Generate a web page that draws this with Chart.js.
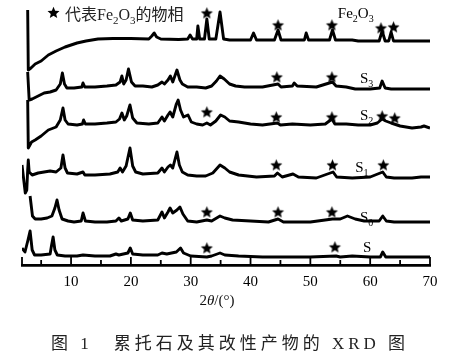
<!DOCTYPE html>
<html>
<head>
<meta charset="utf-8">
<script src="https://cdn.jsdelivr.net/npm/chart.js@4.4.1/dist/chart.umd.min.js"></script>
<style>
  html, body { margin: 0; padding: 0; background: #fff; }
  #wrap { width: 454px; height: 359px; position: relative; }
</style>
</head>
<body>
<div id="wrap"><canvas id="xrd"></canvas></div>
<script>
// Muestras (de arriba hacia abajo)
const muestras = ['Fe2O3', 'S3', 'S2', 'S1', 'S0', 'S'];
// Desplazamiento vertical de cada curva (u.a.)
const desplazamientos = [194, 165, 117, 72, 43, 8];

// [2θ, intensidad]
const fe2o3 = [[2.75,61],[2.85,1],[3.3,3],[4,7],[5,10],[6.2,16],[7.5,20],[9,24],[11,28],[12.5,30],[14.5,32],[17,32.5],[20,32.5],[23,32],[23.5,35],[23.9,38],[24.3,34],[25,32],[28,31.5],[29.5,32],[29.9,36],[30.3,32],[31,32],[31.2,45],[31.5,32],[32.3,32],[32.7,52],[33.1,32],[34.2,32],[34.9,59],[35.5,32],[36.5,31],[38,31],[40,31],[40.5,38],[41,31],[44,31],[44.6,41],[45.1,31],[47,31],[49,31],[49.3,38],[49.7,31],[53.2,31],[53.7,41],[54.2,31],[57,31],[58,30],[61.5,30],[62,40],[62.5,30],[63.1,30],[63.5,39],[63.9,30],[66,30],[70,30]];
const s3 = [[2.75,28],[3,0],[3.5,1],[4.5,4],[5.5,7],[6.5,8],[7.5,10],[8.2,16],[8.55,27],[8.9,16],[9.3,12],[10.5,12],[11.8,13],[12,17],[12.3,13],[14,13],[16,14],[17.5,15],[18.2,18],[18.5,24],[18.8,16],[19.2,20],[19.6,31],[20.1,18],[20.7,14],[22,14],[23.5,13],[24.5,15],[25.2,18],[25.6,16],[26.2,20],[26.6,24],[27,18],[27.7,30],[28.2,20],[28.6,16],[29.5,13],[31,13],[32.5,12],[33.5,14],[34.3,19],[34.9,24],[35.6,21],[36.5,16],[37.5,14],[39,13],[42,13],[44.6,16],[45.1,13],[47,14],[47.3,17],[47.8,14],[51,13],[53.7,18],[54.3,14],[56,13],[57.5,11],[60,11],[61.6,12],[62,19],[62.5,12],[63.5,11],[66,11],[70,11]];
const s2 = [[2.75,48],[2.85,0],[3.4,6],[4,8],[5,12],[6.2,18],[7.5,21],[8.2,28],[8.65,40],[9,28],[9.5,24],[11,23],[11.9,24],[12.1,28],[12.4,24],[14,24],[16,25],[17.5,26],[18.1,29],[18.5,35],[18.9,28],[19.3,32],[19.85,43],[20.3,30],[21,25],[23,24],[24.5,25],[25.2,31],[25.6,27],[26.2,33],[26.55,36],[27,31],[27.6,44],[27.9,48],[28.3,38],[28.8,31],[29.55,33],[30.1,26],[31,24],[32,23],[32.7,25],[33.3,23],[34.2,27],[35,33],[35.7,31],[36.5,27],[38,26],[40,24],[42,23],[44.5,25],[45,23],[47,24],[50,23],[52.5,24],[53.6,29],[54.1,24],[56,24],[58,23],[60,23],[61.2,25],[62,29],[62.6,27],[63.5,25],[65,22],[67,20],[68.5,21],[69,22],[70,20]];
const s1 = [[1.8,28],[2.35,0],[2.6,3],[2.75,23],[2.85,33],[3,21],[3.5,18],[4.5,20],[5.5,21],[6.5,22],[7.5,21],[8.3,25],[8.65,38],[9,25],[9.4,20],[11,19],[12,21],[12.3,18],[14,18],[16.5,19],[17.8,21],[18.2,25],[18.6,21],[19.2,27],[19.85,45],[20.3,27],[20.8,21],[22,19],[24.5,20],[25.2,25],[25.6,21],[26.2,26],[26.6,28],[27,25],[27.7,41],[28.1,28],[28.6,21],[29.5,18],[31,17],[32.5,17],[33.7,20],[34.9,28],[35.7,25],[36.5,21],[38,18],[41,16],[44,17],[44.5,20],[45.3,16],[47.1,19],[48,16],[51,15],[53.8,21],[54.4,16],[57,15],[60,16],[62.1,21],[62.7,16],[64,15],[67,15],[68.5,16],[70,16]];
const s0 = [[3.15,26],[3.55,6],[4,3],[5,3],[6,4],[6.8,6],[7.3,14],[7.65,22],[8,12],[8.5,3],[9.5,1],[10.5,0],[11.7,1],[12,9],[12.4,1],[14,0],[16,0],[17.5,1],[18,4],[18.4,1],[19.5,3],[19.9,9],[20.3,2],[22,1],[24.5,2],[25.2,10],[25.6,4],[26.2,10],[26.55,14],[27,9],[27.7,12],[28.2,15],[28.7,8],[29.5,1],[31,0],[32.7,2],[33.5,1],[34.9,6],[35.7,4],[37,2],[40,1],[43,0],[44.6,3],[45.5,0],[50,0],[53.7,3],[55,3],[56.2,6],[57.5,3],[59,1],[61.5,1],[62.1,6],[62.7,1],[64,0],[70,0]];
const s = [[1.8,9],[2.3,5],[2.8,17],[3.15,26],[3.5,7],[3.9,2],[5,2],[6.5,3],[6.75,12],[7,20],[7.3,7],[7.7,2],[9,1],[11,1],[12,2],[14,1],[16.5,1],[17.5,3],[18,2],[19.5,4],[19.9,9],[20.3,3],[22,2],[24.5,2],[25.2,4],[26,3],[27.6,5],[28.3,9],[28.8,4],[30,1],[32.7,0],[33.5,1],[34.9,4],[35.7,2],[38,1],[42,0],[50,0],[54.3,1],[55,0],[57,1],[60,0],[61.7,0],[62.1,5],[62.6,0],[66,0],[70,0]];
const curvas = [fe2o3, s3, s2, s1, s0, s];

// Picos de Fe2O3 marcados con estrella [2θ, altura]
const estrellas = [[32.7,252],[44.6,240],[53.6,240],[61.8,237],[63.9,238],
  [44.4,188],[53.6,188],
  [32.7,153],[44.3,148],[53.6,148],[62.0,149],[64.1,147],
  [44.3,100],[53.7,100],[62.2,100],
  [32.7,53],[44.6,53],[53.6,53],
  [32.7,17],[54.1,18]];

// Posicion de las etiquetas de cada muestra [2θ, altura]
const etiquetas = [[54.6,247],[58.3,182],[58.3,145],[57.5,93],[58.3,43],[58.8,13]];

const ticksMayores = [10, 20, 30, 40, 50, 60, 70];
const ticksMenores = [5, 15, 25, 35, 45, 55, 65];

const SERIF = '"Liberation Serif", "Noto Sans CJK SC", serif';

function crearEstrella(r) {
  const c = document.createElement('canvas');
  c.width = c.height = Math.ceil(r * 2) + 2;
  const g = c.getContext('2d');
  const cx = c.width / 2, cy = c.height / 2 + 0.5;
  g.beginPath();
  for (let i = 0; i < 10; i++) {
    const rr = i % 2 === 0 ? r : r * 0.45;
    const a = -Math.PI / 2 + i * Math.PI / 5;
    g.lineTo(cx + rr * Math.cos(a), cy + rr * Math.sin(a));
  }
  g.closePath();
  g.fillStyle = '#000';
  g.fill();
  return c;
}
const estrellaImg = crearEstrella(6.3);

// texto con los digitos como subindice
function textoSub(ctx, txt, x, y, size) {
  let cx = x;
  txt.split(/(\d+)/).forEach(parte => {
    if (!parte) return;
    const sub = /^\d+$/.test(parte);
    ctx.font = `${sub ? Math.round(size * 0.68) : size}px ${SERIF}`;
    ctx.fillText(parte, cx, sub ? y + size * 0.25 : y);
    cx += ctx.measureText(parte).width;
  });
  return cx;
}

const decoraciones = {
  id: 'decoraciones',
  afterDraw(chart) {
    const { ctx, chartArea, scales: { x, y } } = chart;
    ctx.save();
    ctx.fillStyle = '#000';
    ctx.strokeStyle = '#000';

    // ticks hacia dentro
    ctx.lineWidth = 1.8;
    const fondo = chartArea.bottom;
    [x.min].concat(ticksMayores).forEach(v => {
      const px = x.getPixelForValue(v);
      ctx.beginPath(); ctx.moveTo(px, fondo); ctx.lineTo(px, fondo - 8); ctx.stroke();
    });
    ticksMenores.forEach(v => {
      const px = x.getPixelForValue(v);
      ctx.beginPath(); ctx.moveTo(px, fondo); ctx.lineTo(px, fondo - 5); ctx.stroke();
    });

    // etiquetas de muestras
    ctx.textBaseline = 'alphabetic';
    ctx.textAlign = 'left';
    muestras.forEach((m, i) => {
      const [ex, ey] = etiquetas[i];
      textoSub(ctx, m, x.getPixelForValue(ex), y.getPixelForValue(ey), 15);
    });

    // leyenda
    ctx.drawImage(estrellaImg, 46, 5);
    let cx = 65;
    ctx.font = `16px ${SERIF}`;
    ctx.fillStyle = '#222';
    ctx.fillText('代表', cx, 20); cx += ctx.measureText('代表').width;
    cx = textoSub(ctx, 'Fe2O3', cx, 20, 16);
    ctx.font = `16px ${SERIF}`;
    ctx.fillText('的物相', cx, 20);

    // titulo del eje x
    ctx.fillStyle = '#111';
    const partes = [['2', ''], ['θ', 'italic '], ['/(°)', '']];
    let ancho = 0;
    partes.forEach(([t, st]) => { ctx.font = `${st}15px ${SERIF}`; ancho += ctx.measureText(t).width; });
    cx = 217 - ancho / 2;
    partes.forEach(([t, st]) => {
      ctx.font = `${st}15px ${SERIF}`;
      ctx.fillText(t, cx, 305);
      cx += ctx.measureText(t).width;
    });

    // pie de figura
    ctx.font = `17px ${SERIF}`;
    ctx.fillStyle = '#222';
    if ('letterSpacing' in ctx) ctx.letterSpacing = '4px';
    const pie = '图 1　累托石及其改性产物的 XRD 图';
    const w = ctx.measureText(pie).width;
    ctx.fillText(pie, 230 - w / 2, 349);
    ctx.restore();
  }
};

const datasets = curvas.map((c, i) => ({
  type: 'line',
  label: muestras[i],
  data: c.map(([a, b]) => ({ x: a, y: b + desplazamientos[i] })),
  borderColor: '#000',
  borderWidth: 2.9,
  borderJoinStyle: 'round',
  pointRadius: 0,
  tension: 0,
  fill: false
}));
datasets.push({
  type: 'scatter',
  label: 'Fe2O3 picos',
  data: estrellas.map(([a, b]) => ({ x: a, y: b })),
  pointStyle: estrellaImg,
  showLine: false
});

new Chart(document.getElementById('xrd'), {
  type: 'line',
  data: { datasets },
  options: {
    responsive: true,
    maintainAspectRatio: false,
    animation: false,
    events: [],
    layout: { padding: { left: 22, right: 24, top: 5, bottom: 0 } },
    plugins: { legend: { display: false }, tooltip: { enabled: false } },
    scales: {
      x: {
        type: 'linear',
        min: 1.8,
        max: 70,
        grid: { display: false, drawTicks: false },
        border: { display: true, color: '#000', width: 2.8 },
        afterBuildTicks: sc => { sc.ticks = ticksMayores.map(v => ({ value: v })); },
        afterFit: sc => { sc.height = 94; },
        ticks: {
          color: '#000',
          font: { family: SERIF, size: 15 },
          padding: 8,
          maxRotation: 0,
          autoSkip: false
        }
      },
      y: { display: false, min: 0, max: 260 }
    }
  },
  plugins: [decoraciones]
});
</script>
</body>
</html>
